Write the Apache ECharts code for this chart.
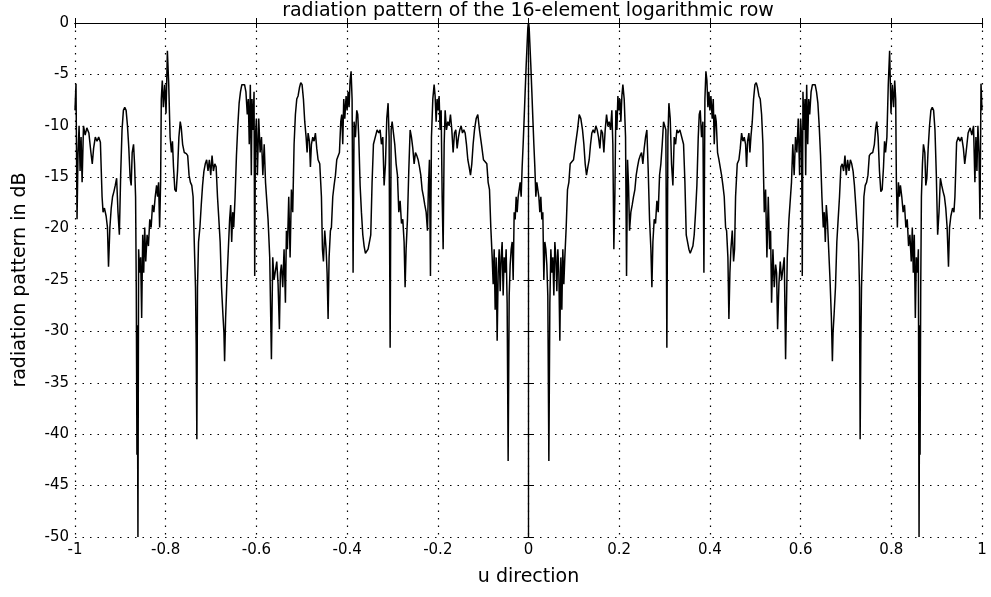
<!DOCTYPE html>
<html>
<head>
<meta charset="utf-8">
<script src="https://cdn.jsdelivr.net/npm/echarts@6/dist/echarts.min.js"></script>
<style>
  html, body { margin: 0; padding: 0; background: #fff; }
  #chart { width: 991px; height: 597px; }
</style>
</head>
<body>
<div id="chart"></div>
<script>
// Array factor of the 16-element logarithmic row, sampled in u = sin(theta)
const uLeft = [
  -1.0000,-0.9978,-0.9955,-0.9933,-0.9910,-0.9888,-0.9866,-0.9843,-0.9813,-0.9776,-0.9739,-0.9694,-0.9649,-0.9619,-0.9590,-0.9552,-0.9515,-0.9478,-0.9440,-0.9403,
  -0.9381,-0.9351,-0.9313,-0.9284,-0.9261,-0.9231,-0.9201,-0.9172,-0.9142,-0.9112,-0.9082,-0.9052,-0.9022,-0.8993,-0.8963,-0.8933,-0.8903,-0.8873,-0.8843,-0.8813,
  -0.8784,-0.8761,-0.8739,-0.8709,-0.8687,-0.8664,-0.8649,-0.8634,-0.8627,-0.8612,-0.8597,-0.8575,-0.8552,-0.8530,-0.8507,-0.8485,-0.8463,-0.8440,-0.8410,-0.8381,
  -0.8351,-0.8321,-0.8291,-0.8261,-0.8231,-0.8201,-0.8179,-0.8157,-0.8134,-0.8112,-0.8097,-0.8075,-0.8052,-0.8022,-0.7993,
  -0.7963,-0.7933,-0.7903,-0.7873,-0.7851,-0.7828,-0.7799,-0.7769,-0.7739,-0.7709,-0.7679,-0.7657,-0.7627,-0.7590,-0.7545,-0.7515,-0.7485,-0.7455,-0.7425,-0.7396,
  -0.7366,-0.7343,-0.7328,-0.7313,-0.7299,-0.7276,-0.7246,-0.7216,-0.7187,-0.7157,-0.7127,-0.7097,-0.7067,-0.7037,-0.7007,-0.6978,-0.6948,-0.6918,-0.6888,-0.6858,
  -0.6828,-0.6799,-0.6769,-0.6739,-0.6716,-0.6701,-0.6679,-0.6649,-0.6619,-0.6590,-0.6567,-0.6545,-0.6522,-0.6500,-0.6470,-0.6440,-0.6410,-0.6381,-0.6351,-0.6321,
  -0.6291,-0.6261,-0.6231,-0.6201,-0.6179,-0.6157,-0.6134,-0.6112,-0.6097,-0.6075,-0.6052,-0.6037,-0.6022,-0.6000,-0.5978,-0.5948,-0.5918,-0.5888,-0.5858,-0.5828,
  -0.5799,
  -0.5743,-0.5706,-0.5669,-0.5640,-0.5610,-0.5581,-0.5551,-0.5522,-0.5493,-0.5471,-0.5449,-0.5419,-0.5390,-0.5360,-0.5338,-0.5316,-0.5287,-0.5257,-0.5228,-0.5199,
  -0.5169,-0.5140,-0.5110,-0.5081,-0.5051,-0.5022,-0.4993,-0.4963,-0.4934,-0.4904,-0.4882,-0.4860,-0.4831,-0.4809,-0.4787,-0.4757,-0.4728,-0.4699,-0.4669,-0.4640,
  -0.4603,-0.4566,-0.4544,-0.4522,-0.4493,-0.4463,-0.4441,-0.4419,-0.4397,-0.4368,-0.4346,-0.4316,-0.4287,-0.4257,-0.4228,-0.4199,-0.4169,-0.4140,-0.4118,-0.4096,
  -0.4074,-0.4051,-0.4022,-0.4000,-0.3978,-0.3956,-0.3934,-0.3912,-0.3890,-0.3868,-0.3846,-0.3816,-0.3787,-0.3765,-0.3743,-0.3713,-0.3684,-0.3654,-0.3625,-0.3596,
  -0.3566,-0.3537,-0.3507,-0.3478,-0.3449,-0.3419,
  -0.3338,-0.3301,-0.3272,-0.3243,-0.3213,-0.3184,-0.3154,-0.3125,-0.3096,-0.3074,-0.3051,-0.3029,-0.3007,-0.2978,-0.2949,-0.2919,-0.2890,-0.2860,-0.2831,-0.2801,
  -0.2772,-0.2743,-0.2721,-0.2699,-0.2669,-0.2640,-0.2610,-0.2581,-0.2551,-0.2522,-0.2493,-0.2463,-0.2434,-0.2404,-0.2375,-0.2346,-0.2316,-0.2287,-0.2257,-0.2228,
  -0.2206,-0.2184,-0.2162,-0.2140,-0.2110,-0.2081,-0.2059,-0.2037,-0.2015,-0.1993,-0.1971,-0.1949,-0.1926,-0.1904,-0.1882,-0.1860,-0.1838,-0.1809,-0.1779,-0.1750,
  -0.1721,-0.1691,-0.1662,-0.1632,-0.1603,-0.1574,-0.1544,-0.1515,-0.1485,-0.1456,-0.1426,-0.1397,-0.1368,-0.1338,-0.1309,-0.1279,-0.1250,-0.1221,-0.1191,-0.1154,
  -0.1118,-0.1081,-0.1037,-0.0993,
  -0.0919,-0.0890,-0.0860,-0.0831,-0.0801,-0.0779,-0.0757,-0.0735,-0.0713,-0.0691,-0.0669,-0.0647,-0.0625,-0.0603,-0.0581,-0.0559,-0.0537,-0.0515,-0.0493,-0.0471,
  -0.0449,-0.0426,-0.0404,-0.0382,-0.0360,-0.0338,-0.0316,-0.0294,-0.0272,-0.0250,-0.0228,-0.0206,-0.0184,-0.0162,-0.0140,-0.0118,-0.0096,-0.0074,-0.0051,-0.0029,
  -0.0015, 0.0000
];
const dbLeft = [
  -8.5,-5.9,-19.1,-12.6,-10.0,-14.4,-11.1,-15.5,-10.0,-10.9,-10.2,-10.7,-12.6,-13.7,-12.2,-11.1,-11.5,-11.1,-11.6,-16.9,
  -18.4,-18.0,-18.8,-19.9,-23.7,-19.9,-18.0,-16.9,-16.4,-15.8,-15.1,-18.4,-20.6,-14.8,-10.4,-8.5,-8.2,-8.5,-10.0,-12.2,
  -15.1,-15.8,-12.6,-11.8,-13.7,-16.9,-25.7,-42.0,-29.4,-50.0,-22.0,-24.3,-22.8,-28.7,-20.6,-24.3,-19.9,-23.2,-20.6,-21.7,
  -19.1,-19.9,-17.7,-18.4,-16.9,-15.8,-16.9,-15.5,-19.9,-15.5,-7.4,-5.6,-8.2,-6.0,-8.8,
  -2.7,-6.0,-11.1,-12.6,-11.5,-14.0,-16.2,-16.4,-14.4,-11.1,-9.6,-10.2,-11.8,-12.6,-12.7,-12.9,-14.8,-15.5,-15.8,-16.9,
  -22.0,-25.7,-31.2,-40.5,-25.7,-21.3,-19.9,-17.7,-15.8,-14.4,-13.7,-13.3,-14.4,-13.3,-14.8,-12.9,-14.4,-13.7,-14.0,-16.9,
  -19.1,-21.3,-25.7,-28.3,-30.1,-32.9,-28.7,-25.0,-22.0,-19.1,-17.7,-21.3,-18.4,-19.9,-16.9,-12.9,-10.0,-7.8,-6.7,-6.0,
  -5.9,-6.0,-6.7,-8.9,-7.4,-11.8,-6.0,-14.8,-7.4,-10.4,-6.7,-24.6,-11.1,-9.3,-14.8,-9.3,-12.6,-11.1,-14.8,-11.8,
  -15.5,
  -19.1,-22.8,-32.7,-22.8,-25.0,-25.0,-23.2,-25.4,-29.8,-24.3,-23.5,-25.7,-22.0,-27.2,-20.2,-22.0,-16.9,-22.8,-16.2,-18.4,
  -11.8,-8.9,-7.4,-7.1,-6.3,-5.8,-6.0,-7.4,-9.6,-11.1,-12.6,-10.7,-11.5,-14.0,-11.8,-11.1,-11.5,-10.7,-12.2,-13.3,
  -13.7,-16.9,-22.0,-23.2,-20.2,-22.0,-24.3,-28.8,-22.8,-20.2,-19.9,-16.9,-15.8,-14.8,-13.3,-13.3,-12.6,-9.6,-8.9,-11.8,
  -7.4,-9.3,-7.1,-8.5,-6.7,-8.2,-5.6,-4.7,-7.4,-24.3,-9.6,-11.1,-8.5,-8.9,-11.1,-15.8,-18.4,-20.6,-21.7,-22.4,
  -22.4,-22.0,-21.3,-20.6,-15.5,-11.8,
  -10.4,-10.7,-10.4,-11.8,-11.1,-15.8,-13.7,-9.3,-7.8,-11.1,-31.6,-10.4,-9.6,-9.6,-11.8,-13.7,-14.8,-18.4,-17.3,-19.5,
  -19.1,-21.3,-25.7,-22.0,-19.1,-14.4,-10.4,-11.1,-12.2,-13.7,-12.6,-12.9,-13.3,-14.0,-14.8,-16.2,-16.9,-17.7,-18.4,-20.2,
  -15.8,-13.3,-24.6,-11.1,-7.4,-6.0,-7.1,-9.6,-7.4,-8.5,-7.1,-10.4,-8.5,-16.9,-22.0,-11.8,-8.5,-10.4,-9.6,-10.0,
  -8.9,-10.4,-12.6,-10.7,-10.4,-12.2,-11.1,-10.4,-10.0,-10.7,-10.4,-10.7,-11.8,-13.3,-14.0,-14.8,-13.7,-11.8,-10.4,-9.3,
  -8.9,-10.4,-11.8,-13.3,
  -13.7,-15.5,-16.2,-19.9,-22.8,-25.4,-22.0,-27.9,-22.8,-30.9,-24.3,-22.0,-26.1,-22.8,-21.3,-26.5,-22.8,-24.3,-22.0,-27.2,
  -42.6,-26.5,-23.5,-22.0,-21.3,-25.0,-18.4,-19.1,-16.9,-18.4,-16.9,-16.2,-15.5,-16.9,-14.0,-11.8,-9.3,-6.7,-4.1,-1.9,
  -0.5, 0.0
];
const uRight = [
  0.0015,0.0029,0.0051,0.0074,0.0096,0.0118,0.0140,0.0162,0.0184,0.0206,0.0228,0.0250,0.0272,0.0294,0.0316,0.0338,0.0360,0.0382,0.0404,0.0426,
  0.0449,0.0471,0.0493,0.0515,0.0537,0.0559,0.0581,0.0603,0.0625,0.0647,0.0669,0.0691,0.0713,0.0735,0.0757,0.0779,0.0801,0.0831,0.0860,0.0890,
  0.0919,
  0.0993,0.1037,0.1081,0.1118,0.1154,0.1191,0.1221,0.1250,0.1279,0.1309,0.1338,0.1368,0.1397,0.1426,0.1456,0.1485,0.1515,0.1544,0.1574,0.1603,
  0.1632,0.1662,0.1691,0.1721,0.1750,0.1779,0.1809,0.1838,0.1860,0.1882,0.1904,0.1926,0.1949,0.1971,0.1993,0.2015,0.2037,0.2059,0.2081,0.2110,
  0.2140,0.2162,0.2184,0.2206,0.2228,0.2257,0.2287,0.2316,0.2346,0.2375,0.2404,0.2434,0.2463,0.2493,0.2522,0.2551,0.2581,0.2610,0.2640,0.2669,
  0.2699,0.2721,0.2743,0.2772,0.2801,0.2831,0.2860,0.2890,0.2919,0.2949,0.2978,0.3007,0.3029,0.3051,0.3074,0.3096,0.3125,0.3154,0.3184,0.3213,
  0.3243,0.3272,0.3301,0.3338,
  0.3419,0.3449,0.3478,0.3507,0.3537,0.3566,0.3596,0.3625,0.3654,0.3684,0.3713,0.3743,0.3765,0.3787,0.3816,0.3846,0.3868,0.3890,0.3912,0.3934,
  0.3956,0.3978,0.4000,0.4022,0.4051,0.4074,0.4096,0.4118,0.4140,0.4169,0.4199,0.4228,0.4257,0.4287,0.4316,0.4346,0.4368,0.4397,0.4419,0.4441,
  0.4463,0.4493,0.4522,0.4544,0.4566,0.4603,0.4640,0.4669,0.4699,0.4728,0.4757,0.4787,0.4809,0.4831,0.4860,0.4882,0.4904,0.4934,0.4963,0.4993,
  0.5022,0.5051,0.5081,0.5110,0.5140,0.5169,0.5199,0.5228,0.5257,0.5287,0.5316,0.5338,0.5360,0.5390,0.5419,0.5449,0.5471,0.5493,0.5522,0.5551,
  0.5581,0.5610,0.5640,0.5669,0.5706,0.5743,
  0.5799,0.5828,0.5858,0.5888,0.5918,0.5948,0.5978,0.6000,0.6022,0.6037,0.6052,0.6075,0.6097,0.6112,0.6134,0.6157,0.6179,0.6201,0.6231,0.6261,
  0.6291,0.6321,0.6351,0.6381,0.6410,0.6440,0.6470,0.6500,0.6522,0.6545,0.6567,0.6590,0.6619,0.6649,0.6679,0.6701,0.6716,0.6739,0.6769,0.6799,
  0.6828,0.6858,0.6888,0.6918,0.6948,0.6978,0.7007,0.7037,0.7067,0.7097,0.7127,0.7157,0.7187,0.7216,0.7246,0.7276,0.7299,0.7313,0.7328,0.7343,
  0.7366,0.7396,0.7425,0.7455,0.7485,0.7515,0.7545,0.7590,0.7627,0.7657,0.7679,0.7709,0.7739,0.7769,0.7799,0.7828,0.7851,0.7873,0.7903,0.7933,
  0.7963,
  0.7993,0.8022,0.8052,0.8075,0.8097,0.8112,0.8134,0.8157,0.8179,0.8201,0.8231,0.8261,0.8291,0.8321,0.8351,0.8381,0.8410,0.8440,0.8463,0.8485,
  0.8507,0.8530,0.8552,0.8575,0.8597,0.8612,0.8627,0.8634,0.8649,0.8664,0.8687,0.8709,0.8739,0.8761,0.8784,0.8813,0.8843,0.8873,0.8903,0.8933,
  0.8963,0.8993,0.9022,0.9052,0.9082,0.9112,0.9142,0.9172,0.9201,0.9231,0.9261,0.9284,0.9313,0.9351,0.9381,0.9403,0.9440,0.9478,0.9515,0.9552,
  0.9590,0.9619,0.9649,0.9694,0.9739,0.9776,0.9813,0.9843,0.9866,0.9888,0.9910,0.9933,0.9955,0.9978,1.0000
];
const dbRight = [
  -0.5,-1.9,-4.1,-6.7,-9.3,-11.8,-14.0,-16.9,-15.5,-16.2,-16.9,-18.4,-16.9,-19.1,-18.4,-25.0,-21.3,-22.0,-23.5,-26.5,
  -42.6,-27.2,-22.0,-24.3,-22.8,-26.5,-21.3,-22.8,-26.1,-22.0,-24.3,-30.9,-22.8,-27.9,-22.0,-25.4,-22.8,-19.9,-16.2,-15.5,
  -13.7,
  -13.3,-11.8,-10.4,-8.9,-9.3,-10.4,-11.8,-13.7,-14.8,-14.0,-13.3,-11.8,-10.7,-10.4,-10.7,-10.0,-10.4,-11.1,-12.2,-10.4,
  -10.7,-12.6,-10.4,-8.9,-10.0,-9.6,-10.4,-8.5,-11.8,-22.0,-16.9,-8.5,-10.4,-7.1,-8.5,-7.4,-9.6,-7.1,-6.0,-7.4,
  -11.1,-24.6,-13.3,-15.8,-20.2,-18.4,-17.7,-16.9,-16.2,-14.8,-14.0,-13.3,-12.9,-12.6,-13.7,-12.2,-11.1,-10.4,-14.4,-19.1,
  -22.0,-25.7,-21.3,-19.1,-19.5,-17.3,-18.4,-14.8,-13.7,-11.8,-9.6,-9.6,-10.4,-31.6,-11.1,-7.8,-9.3,-13.7,-15.8,-11.1,
  -11.8,-10.4,-10.7,-10.4,
  -11.8,-15.5,-20.6,-21.3,-22.0,-22.4,-22.4,-21.7,-20.6,-18.4,-15.8,-11.1,-8.9,-8.5,-11.1,-9.6,-24.3,-7.4,-4.7,-5.6,
  -8.2,-6.7,-8.5,-7.1,-9.3,-7.4,-11.8,-8.9,-9.6,-12.6,-13.3,-13.3,-14.8,-15.8,-16.9,-19.9,-20.2,-22.8,-28.8,-24.3,
  -22.0,-20.2,-23.2,-22.0,-16.9,-13.7,-13.3,-12.2,-10.7,-11.5,-11.1,-11.8,-14.0,-11.5,-10.7,-12.6,-11.1,-9.6,-7.4,-6.0,
  -5.8,-6.3,-7.1,-7.4,-8.9,-11.8,-18.4,-16.2,-22.8,-16.9,-22.0,-20.2,-27.2,-22.0,-25.7,-23.5,-24.3,-29.8,-25.4,-23.2,
  -25.0,-25.0,-22.8,-32.7,-22.8,-19.1,
  -15.5,-11.8,-14.8,-11.1,-12.6,-9.3,-14.8,-9.3,-11.1,-24.6,-6.7,-10.4,-7.4,-14.8,-6.0,-11.8,-7.4,-8.9,-6.7,-6.0,
  -5.9,-6.0,-6.7,-7.8,-10.0,-12.9,-16.9,-19.9,-18.4,-21.3,-17.7,-19.1,-22.0,-25.0,-28.7,-32.9,-30.1,-28.3,-25.7,-21.3,
  -19.1,-16.9,-14.0,-13.7,-14.4,-12.9,-14.8,-13.3,-14.4,-13.3,-13.7,-14.4,-15.8,-17.7,-19.9,-21.3,-25.7,-40.5,-31.2,-25.7,
  -22.0,-16.9,-15.8,-15.5,-14.8,-12.9,-12.7,-12.6,-11.8,-10.2,-9.6,-11.1,-14.4,-16.4,-16.2,-14.0,-11.5,-12.6,-11.1,-6.0,
  -2.7,
  -8.8,-6.0,-8.2,-5.6,-7.4,-15.5,-19.9,-15.5,-16.9,-15.8,-16.9,-18.4,-17.7,-19.9,-19.1,-21.7,-20.6,-23.2,-19.9,-24.3,
  -20.6,-28.7,-22.8,-24.3,-22.0,-50.0,-29.4,-42.0,-25.7,-16.9,-13.7,-11.8,-12.6,-15.8,-15.1,-12.2,-10.0,-8.5,-8.2,-8.5,
  -10.4,-14.8,-20.6,-18.4,-15.1,-15.8,-16.4,-16.9,-18.0,-19.9,-23.7,-19.9,-18.8,-18.0,-18.4,-16.9,-11.6,-11.1,-11.5,-11.1,
  -12.2,-13.7,-12.6,-10.7,-10.2,-10.9,-10.0,-15.5,-11.1,-14.4,-10.0,-12.6,-19.1,-5.9,-8.5
];
const xTicks = { min: -1, max: 1, step: 0.2 };
const yTicks = { min: -50, max: 0, step: 5 };

const points = [];
uLeft.forEach((u, i) => points.push([u, dbLeft[i]]));
uRight.forEach((u, i) => points.push([u, dbRight[i]]));

const FONT = 'DejaVu Sans, Liberation Sans, Arial, sans-serif';
const chart = echarts.init(document.getElementById('chart'), null, { renderer: 'canvas' });

const gridLine = { show: true, lineStyle: { color: '#000', width: 1.2, type: [1.5, 6] } };
const frameAxis = { show: true, lineStyle: { color: '#000', width: 1.2 } };
const inTicks = { show: true, inside: true, length: 5, lineStyle: { color: '#000' } };

chart.setOption({
  animation: false,
  backgroundColor: '#fff',
  title: {
    text: 'radiation pattern of the 16-element logarithmic row',
    left: 528, top: 2, padding: 0, textAlign: 'center',
    textStyle: { fontFamily: FONT, fontSize: 19, lineHeight: 19, fontWeight: 'normal', color: '#000' }
  },
  grid: { left: 75, right: 9, top: 23, bottom: 60, containLabel: false },
  xAxis: [
    {
      type: 'value', min: xTicks.min, max: xTicks.max, interval: xTicks.step,
      name: 'u direction', nameLocation: 'middle', nameGap: 31,
      nameTextStyle: { fontFamily: FONT, fontSize: 19, color: '#000' },
      axisLine: frameAxis, axisTick: inTicks, splitLine: gridLine,
      axisLabel: { fontFamily: FONT, fontSize: 15, color: '#000', margin: 6 }
    },
    {
      type: 'value', position: 'top', min: xTicks.min, max: xTicks.max, interval: xTicks.step,
      axisLine: frameAxis, axisTick: inTicks, splitLine: { show: false }, axisLabel: { show: false }
    }
  ],
  yAxis: [
    {
      type: 'value', min: yTicks.min, max: yTicks.max, interval: yTicks.step,
      name: 'radiation pattern in dB', nameLocation: 'middle', nameGap: 45, nameRotate: 90,
      nameTextStyle: { fontFamily: FONT, fontSize: 19, color: '#000' },
      axisLine: frameAxis, axisTick: inTicks, splitLine: gridLine,
      axisLabel: { fontFamily: FONT, fontSize: 15, color: '#000', margin: 6 }
    },
    {
      type: 'value', position: 'right', min: yTicks.min, max: yTicks.max, interval: yTicks.step,
      axisLine: frameAxis, axisTick: inTicks, splitLine: { show: false }, axisLabel: { show: false }
    }
  ],
  series: [{
    type: 'line',
    data: points,
    showSymbol: false,
    clip: true,
    lineStyle: { color: '#000', width: 1.5 }
  }]
});
</script>
</body>
</html>
